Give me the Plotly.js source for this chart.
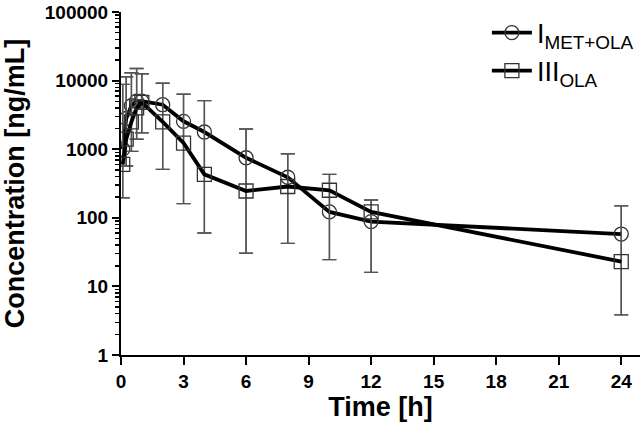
<!DOCTYPE html>
<html>
<head>
<meta charset="utf-8">
<script src="https://cdn.plot.ly/plotly-3.0.1.min.js"></script>
<style>
html,body{margin:0;padding:0;background:#fff;}
#chart{width:644px;height:436px;}
</style>
</head>
<body>
<div id="chart"></div>
<script>
// Time points [h]
var timeH = [0.083, 0.25, 0.5, 0.75, 1, 2, 3, 4, 6, 8, 10, 12, 24];
// I_MET+OLA concentrations [ng/mL]
var concI = [1000, 2800, 4300, 5000, 5000, 4450, 2550, 1780, 750, 390, 122, 88, 58];
// III_OLA concentrations [ng/mL]
var concIII = [600, 1400, 2500, 4000, 4800, 2500, 1230, 430, 246, 286, 252, 122, 23];
// Error bar extents (upper and lower caps) [ng/mL]
var capUpper = [8800, 11400, 13000, 15000, 12600, 9140, 6320, 5100, 1970, 860, 430, 182, 149];
var capLower = [196, 570, 930, 1400, 1730, 508, 161, 60, 30.4, 42.4, 24.6, 16, 3.84];
// Axis tick labels
var xTicks = [0, 3, 6, 9, 12, 15, 18, 21, 24];
var yTicks = [1, 10, 100, 1000, 10000, 100000];
var yTickText = ['1', '10', '100', '1000', '10000', '100000'];

function plusOf(vals, caps){ return vals.map(function(v,i){ return Math.max(caps[i]-v,0); }); }
function minusOf(vals, caps){ return vals.map(function(v,i){ return Math.max(v-caps[i],0); }); }

var errStyle = {color:'#555555', thickness:1.4, width:7};

var traceI = {
  x: timeH, y: concI, type:'scatter', mode:'lines+markers',
  name: 'I<sub>MET+OLA</sub>',
  line:{color:'#000000', width:3.8},
  marker:{symbol:'circle-open', size:14, color:'#333333', line:{width:1.3, color:'#333333'}},
  error_y: Object.assign({type:'data', symmetric:false, array: plusOf(concI, capUpper), arrayminus: minusOf(concI, capLower), visible:true}, errStyle)
};
var traceIII = {
  x: timeH, y: concIII, type:'scatter', mode:'lines+markers',
  name: 'III<sub>OLA</sub>',
  line:{color:'#000000', width:3.8},
  marker:{symbol:'square-open', size:14, color:'#333333', line:{width:1.3, color:'#333333'}},
  error_y: Object.assign({type:'data', symmetric:false, array: plusOf(concIII, capUpper), arrayminus: minusOf(concIII, capLower), visible:true}, errStyle)
};

var fontFam = 'Liberation Sans, Arial, sans-serif';

var layout = {
  width:644, height:436,
  margin:{l:121, r:4, t:12, b:81},
  paper_bgcolor:'#ffffff', plot_bgcolor:'#ffffff',
  font:{family:fontFam, size:18, color:'#000'},
  showlegend:true,
  legend:{x:0.705, y:1.01, xanchor:'left', yanchor:'top', bgcolor:'rgba(0,0,0,0)',
    font:{family:fontFam, size:27, color:'#000'}, tracegroupgap:0, itemwidth:40},
  xaxis:{
    range:[0, 24.9], tickmode:'array', tickvals:xTicks, ticktext:xTicks.map(String),
    showgrid:false, zeroline:false, showline:true, linecolor:'#000', linewidth:2,
    ticks:'outside', ticklen:8, tickwidth:2, tickcolor:'#000', ticklabeloverflow:'allow',
    tickfont:{family:fontFam, size:19, weight:700, color:'#000'},
    title:{text:'<b>Time [h]</b>', font:{family:fontFam, size:27, color:'#000'}, standoff:6}
  },
  yaxis:{
    type:'log', range:[0,5], tickmode:'array', tickvals:yTicks, ticktext:yTickText,
    showgrid:false, zeroline:false, showline:true, linecolor:'#000', linewidth:2,
    ticks:'outside', ticklen:7, tickwidth:2, tickcolor:'#000', ticklabeloverflow:'allow',
    tickfont:{family:fontFam, size:19, weight:700, color:'#000'},
    minor:{ticks:'outside', ticklen:4, tickwidth:1.5, tickcolor:'#000', dtick:'D1', showgrid:false},
    title:{text:'<b>Concentration [ng/mL]</b>', font:{family:fontFam, size:27, color:'#000'}, standoff:18}
  }
};

Plotly.newPlot('chart', [traceI, traceIII], layout, {displayModeBar:false, staticPlot:true});
</script>
</body>
</html>
